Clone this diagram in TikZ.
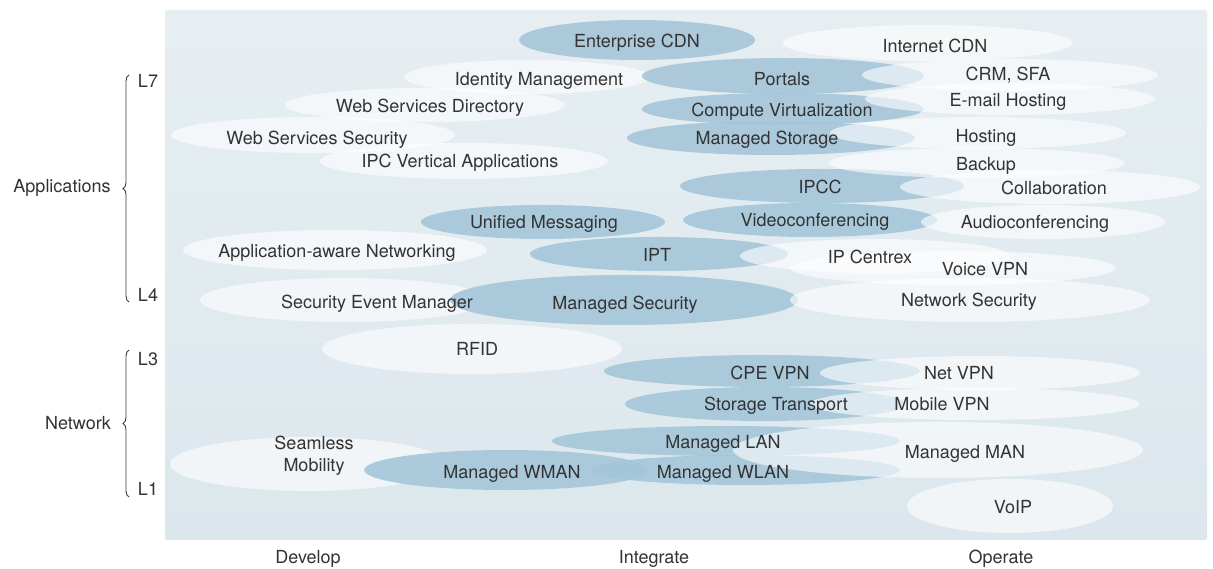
\documentclass[tikz,border=0pt]{standalone}
\usepackage{fontspec}
\setmainfont{TeX Gyre Heros}
\usetikzlibrary{fadings,decorations.pathreplacing}

\definecolor{paneltop}{HTML}{E6EEF2}
\definecolor{panelbg}{HTML}{DCE7ED}
\definecolor{blobblue}{HTML}{A5C6D8}
\definecolor{inktext}{HTML}{333333}
\definecolor{braceink}{HTML}{3C3C3C}

% ellipses fade out close to their rim
\pgfdeclareradialshading{softrim}{\pgfpointorigin}{color(0bp)=(white); color(41bp)=(white); color(50bp)=(black); color(100bp)=(black)}
\pgfdeclarefading{softrim}{\pgfuseshading{softrim}}

\begin{document}
\begin{tikzpicture}[x=1pt,y=-1pt,
  dark blob/.style={fill=blobblue,fill opacity=.9,path fading=softrim},
  light blob/.style={fill=white,fill opacity=.6,path fading=softrim},
  item node/.style={text=inktext,inner sep=0pt,text height=13pt,text depth=4pt,
    align=center,font=\fontsize{18}{22}\selectfont},
  brace line/.style={draw=braceink,line width=.9pt,decorate,decoration={brace,amplitude=6pt}}]

  \useasboundingbox[fill=white] (0,0) rectangle (1213,569);
  \shade[top color=paneltop,bottom color=panelbg,rounded corners=2pt] (165,10) rectangle (1207,540);

  % develop side
  \fill[light blob] (527,77) ellipse [x radius=123,y radius=17];
  \fill[light blob] (425,105) ellipse [x radius=140,y radius=17];
  \fill[light blob] (313,135) ellipse [x radius=142,y radius=18];
  \fill[light blob] (464,161) ellipse [x radius=144,y radius=18];
  \fill[light blob] (335,250) ellipse [x radius=152,y radius=20];
  \fill[light blob] (345,300) ellipse [x radius=145,y radius=22];
  \fill[light blob] (472,349) ellipse [x radius=150,y radius=25];
  \fill[light blob] (308,464) ellipse [x radius=138,y radius=27];

  % integrate band
  \fill[dark blob] (637,40) ellipse [x radius=118,y radius=20];
  \fill[dark blob] (783,76) ellipse [x radius=141,y radius=18];
  \fill[dark blob] (783,109) ellipse [x radius=141,y radius=16];
  \fill[dark blob] (771,138) ellipse [x radius=144,y radius=17];
  \fill[dark blob] (822,186) ellipse [x radius=142,y radius=17];
  \fill[dark blob] (543,222) ellipse [x radius=122,y radius=17];
  \fill[dark blob] (810,220) ellipse [x radius=127,y radius=17];
  \fill[dark blob] (659,254) ellipse [x radius=129,y radius=17];
  \fill[dark blob] (624,300) ellipse [x radius=174,y radius=25];
  \fill[dark blob] (762,371) ellipse [x radius=158,y radius=16];
  \fill[dark blob] (765,404) ellipse [x radius=140,y radius=17];
  \fill[dark blob] (726,441) ellipse [x radius=174,y radius=15];
  \fill[dark blob] (745,470) ellipse [x radius=155,y radius=15];
  \fill[dark blob] (506,470) ellipse [x radius=142,y radius=20];

  % operate side
  \fill[light blob] (928,43) ellipse [x radius=145,y radius=18];
  \fill[light blob] (1010,75) ellipse [x radius=148,y radius=16];
  \fill[light blob] (1010,99) ellipse [x radius=145,y radius=16];
  \fill[light blob] (978,133) ellipse [x radius=148,y radius=16];
  \fill[light blob] (977,163) ellipse [x radius=148,y radius=15];
  \fill[light blob] (1050,187) ellipse [x radius=150,y radius=17];
  \fill[light blob] (1043,222) ellipse [x radius=122,y radius=17];
  \fill[light blob] (875,256) ellipse [x radius=135,y radius=17];
  \fill[light blob] (953,268) ellipse [x radius=163,y radius=17];
  \fill[light blob] (970,300) ellipse [x radius=180,y radius=22];
  \fill[light blob] (980,373) ellipse [x radius=160,y radius=17];
  \fill[light blob] (975,404) ellipse [x radius=165,y radius=16];
  \fill[light blob] (938,450) ellipse [x radius=205,y radius=28];
  \fill[light blob] (1010,506) ellipse [x radius=103,y radius=27];

  % service names
  \node[item node] (ecdn)   at (637,43)  {Enterprise CDN};
  \node[item node] (icdn)   at (935,48)  {Internet CDN};
  \node[item node] (idm)    at (539,81)  {Identity Management};
  \node[item node] (portal) at (782,81)  {Portals};
  \node[item node] (crm)    at (1008,76) {CRM, SFA};
  \node[item node] (wsd)    at (430,108) {Web Services Directory};
  \node[item node] (cvirt)  at (782,112) {Compute Virtualization};
  \node[item node] (email)  at (1008,102) {E-mail Hosting};
  \node[item node] (wss)    at (317,140) {Web Services Security};
  \node[item node] (mstor)  at (767,140) {Managed Storage};
  \node[item node] (host)   at (986,138) {Hosting};
  \node[item node] (ipcv)   at (460,163) {IPC Vertical Applications};
  \node[item node] (backup) at (986,166) {Backup};
  \node[item node] (ipcc)   at (820,189) {IPCC};
  \node[item node] (collab) at (1054,190) {Collaboration};
  \node[item node] (umsg)   at (544,224) {Unified Messaging};
  \node[item node] (vconf)  at (815,222) {Videoconferencing};
  \node[item node] (audio)  at (1035,224) {Audioconferencing};
  \node[item node] (aan)    at (337,253) {Application-aware Networking};
  \node[item node] (ipt)    at (657,257) {IPT};
  \node[item node] (ipcx)   at (870,259) {IP Centrex};
  \node[item node] (voice)  at (985,271) {Voice VPN};
  \node[item node] (sem)    at (377,304) {Security Event Manager};
  \node[item node] (msec)   at (625,305) {Managed Security};
  \node[item node] (netsec) at (969,302) {Network Security};
  \node[item node] (rfid)   at (477,351) {RFID};
  \node[item node] (cpe)    at (770,375) {CPE VPN};
  \node[item node] (netvpn) at (959,375) {Net VPN};
  \node[item node] (stor)   at (776,406) {Storage Transport};
  \node[item node] (mobvpn) at (942,406) {Mobile VPN};
  \node[item node] (mlan)   at (723,444) {Managed LAN};
  \node[item node] (mman)   at (965,454) {Managed MAN};
  \node[item node] (seam)   at (314,467) {Seamless\\Mobility};
  \node[item node] (wman)   at (512,474) {Managed WMAN};
  \node[item node] (mwlan)  at (723,474) {Managed WLAN};
  \node[item node] (voip)   at (1013,509) {VoIP};

  % axes
  \node[item node] (develop)   at (308,559)  {Develop};
  \node[item node] (integrate) at (654,559)  {Integrate};
  \node[item node] (operate)   at (1001,559) {Operate};
  \node[item node] (lseven) at (148,83)  {L7};
  \node[item node] (lfour)  at (148,297) {L4};
  \node[item node] (lthree) at (148,361) {L3};
  \node[item node] (lone)   at (148,491) {L1};
  \node[item node] (apps) at (62,188)  {Applications};
  \node[item node] (net)  at (78,425)  {Network};

  \coordinate (apps top) at (129,75);
  \coordinate (apps low) at (129,302);
  \coordinate (net top)  at (129,350);
  \coordinate (net low)  at (129,497);
  \draw[brace line] (apps low) -- (apps top);
  \draw[brace line] (net low) -- (net top);
\end{tikzpicture}
\end{document}
